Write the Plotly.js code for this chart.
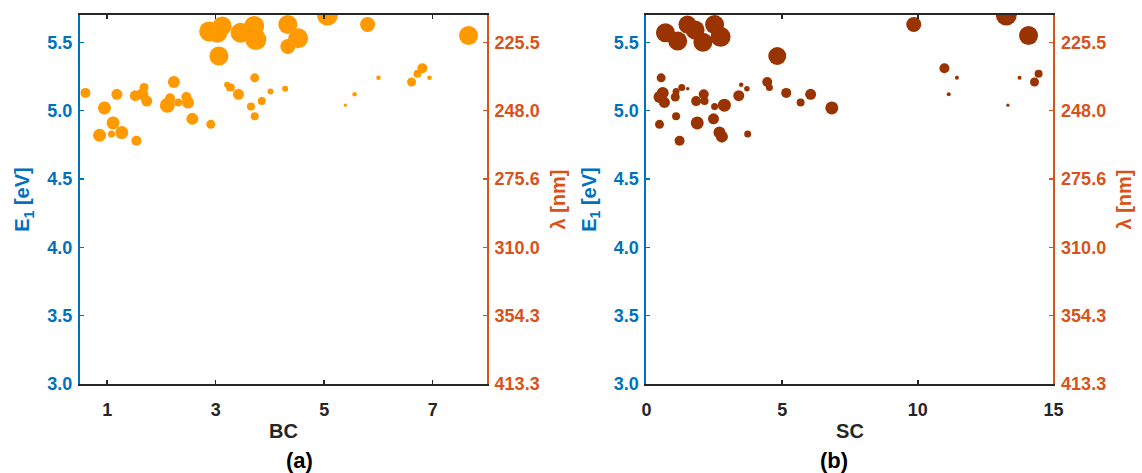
<!DOCTYPE html>
<html>
<head>
<meta charset="utf-8">
<script src="https://cdn.plot.ly/plotly-3.0.1.min.js"></script>
<style>html,body{margin:0;padding:0;background:#fff;}#chart{width:1142px;height:473px;}</style>
</head>
<body>
<div id="chart"></div>
<script>
// ---- data: panel (a) BC vs E1 ----
var bcValues = [0.60,0.95,1.18,1.11,0.86,1.08,1.27,1.54,1.52,1.68,1.65,1.73,2.23,2.11,2.16,2.31,2.46,2.49,2.57,2.91,3.21,3.28,3.24,3.42,3.72,3.65,3.85,3.72,4.01,4.28,5.39,5.56,6.00,6.61,6.72,6.81,6.94,
  2.88,3.03,3.12,3.06,3.46,3.71,3.74,4.33,4.33,4.52,5.06,5.80,7.66];
var e1ValuesA = [5.13,5.02,5.12,4.91,4.82,4.83,4.84,4.78,5.11,5.17,5.12,5.07,5.21,5.04,5.09,5.06,5.10,5.06,4.94,4.90,5.19,5.17,5.16,5.12,5.24,5.03,5.07,4.96,5.14,5.16,5.04,5.12,5.24,5.21,5.27,5.31,5.24,
  5.58,5.57,5.62,5.40,5.57,5.62,5.52,5.63,5.47,5.53,5.70,5.63,5.55];
var weightA = [10,13,11,13,13,7,13,10,11,9,12,11,12,15,10,8,10,12,12,9,6,8,5,11,9,8,8,8,6,6,3.3,4.5,4.5,9,8,10,4.5,
  20,20,19,19,20,20,21,19,15,20,21,15,19];

// ---- data: panel (b) SC vs E1 ----
var scValues = [0.54,0.48,0.60,0.66,0.48,1.06,1.09,1.09,1.30,1.52,1.22,1.83,2.11,2.14,1.87,2.47,2.51,2.87,2.69,2.78,3.40,3.49,3.70,3.73,4.45,4.53,5.15,5.68,6.05,6.83,10.98,11.14,11.44,13.32,13.75,14.30,14.45,
  0.70,1.15,1.51,1.79,2.08,2.51,2.73,4.82,9.85,13.26,14.08];
var e1ValuesB = [5.24,5.10,5.13,5.06,4.90,5.10,5.14,4.96,5.17,5.16,4.78,5.07,5.12,5.07,4.91,4.94,5.03,5.04,4.84,4.81,5.11,5.19,5.16,4.83,5.21,5.17,5.13,5.06,5.12,5.02,5.31,5.12,5.24,5.04,5.24,5.21,5.27,
  5.57,5.51,5.63,5.59,5.50,5.63,5.54,5.40,5.63,5.70,5.55];
var weightB = [9,12,12,11,9,9,7,8,7,3.5,10,10,10,8,13,11,7,13,12,12,11,4.5,5.5,7,10,7,10,8,11,13,10,4,4,3.3,4,9,8,
  19,19,18,19,19,19,20,18,15,21,19];

var eTicks = [3.0,3.5,4.0,4.5,5.0,5.5];
var lambdaTickText = ['413.3','354.3','310.0','275.6','248.0','225.5'];
var eTickText = ['3.0','3.5','4.0','4.5','5.0','5.5'];
var bcTicks = [1,3,5,7];
var scTicks = [0,5,10,15];

var blue = '#0072BD', orange = '#D95319', black = '#262626';
var FONT = 'Liberation Sans, Arial, sans-serif';
var TS = 18, LS = 20;

var traces = [
  {x: bcValues, y: e1ValuesA, type: 'scatter', mode: 'markers', xaxis: 'x', yaxis: 'y',
   marker: {size: weightA, sizemode: 'diameter', sizeref: 1, color: 'rgb(255,153,0)', opacity: 1, line: {width: 0}},
   hoverinfo: 'x+y', showlegend: false},
  {x: scValues, y: e1ValuesB, type: 'scatter', mode: 'markers', xaxis: 'x2', yaxis: 'y3',
   marker: {size: weightB, sizemode: 'diameter', sizeref: 1, color: 'rgb(153,51,0)', opacity: 1, line: {width: 0}},
   hoverinfo: 'x+y', showlegend: false}
];

function yLeft(anchor) {
  return {domain: [0.18816, 0.96829], anchor: anchor, range: [3, 5.7], tickvals: eTicks, ticktext: eTickText,
    ticks: 'inside', ticklen: 4, tickwidth: 1.5, tickcolor: blue, showline: true, linecolor: blue, linewidth: 2,
    showgrid: false, zeroline: false, ticklabelstandoff: 2, tickfont: {family: FONT, size: TS, color: blue, weight: 'bold'},
    title: {text: 'E<sub>1</sub> [eV]', font: {family: FONT, size: LS, color: blue, weight: 'bold'}, standoff: 12}};
}
function yRight(over, anchor) {
  return {overlaying: over, side: 'right', anchor: anchor, range: [3, 5.7], tickvals: eTicks, ticktext: lambdaTickText,
    ticks: 'inside', ticklen: 4, tickwidth: 1.5, tickcolor: orange, showline: true, linecolor: orange, linewidth: 2,
    showgrid: false, zeroline: false, ticklabelstandoff: 2, tickfont: {family: FONT, size: TS, color: orange, weight: 'bold'},
    title: {text: 'λ [nm]', font: {family: FONT, size: LS, color: orange, weight: 'bold'}, standoff: 12}};
}
function xAx(domain, range, tickvals, anchor, label) {
  return {domain: domain, anchor: anchor, range: range, tickvals: tickvals, ticks: 'inside', ticklen: 4, tickwidth: 1.5,
    tickcolor: black, showline: true, linecolor: black, linewidth: 2, mirror: 'ticks', showgrid: false, zeroline: false,
    ticklabelstandoff: 8, tickfont: {family: FONT, size: TS, color: black, weight: 'bold'},
    title: {text: label, font: {family: FONT, size: LS, color: black, weight: 'bold'}, standoff: 5}};
}

var layout = {
  width: 1142, height: 473, margin: {l: 0, r: 0, t: 0, b: 0}, paper_bgcolor: '#fff', plot_bgcolor: '#fff',
  font: {family: FONT},
  xaxis: xAx([0.07005, 0.42645], [0.5, 8], bcTicks, 'y', 'BC'),
  yaxis: yLeft('x'),
  yaxis2: yRight('y', 'x'),
  xaxis2: xAx([0.5661, 0.9225], [0, 15], scTicks, 'y3', 'SC'),
  yaxis3: yLeft('x2'),
  yaxis4: yRight('y3', 'x2'),
  annotations: [
    {text: '(a)', x: 0.24825, y: 460, xref: 'paper', yref: 'paper', yanchor: 'middle', showarrow: false,
     font: {family: FONT, size: 22, color: '#000', weight: 'bold'}},
    {text: '(b)', x: 0.7443, y: 460, xref: 'paper', yref: 'paper', yanchor: 'middle', showarrow: false,
     font: {family: FONT, size: 22, color: '#000', weight: 'bold'}}
  ]
};
layout.annotations.forEach(function(a){ a.y = 1 - a.y / 473; });
traces.push({x: [null], y: [null], xaxis: 'x', yaxis: 'y2', type: 'scatter', showlegend: false, hoverinfo: 'skip'});
traces.push({x: [null], y: [null], xaxis: 'x2', yaxis: 'y4', type: 'scatter', showlegend: false, hoverinfo: 'skip'});

Plotly.newPlot('chart', traces, layout, {staticPlot: true, displayModeBar: false});
</script>
</body>
</html>
